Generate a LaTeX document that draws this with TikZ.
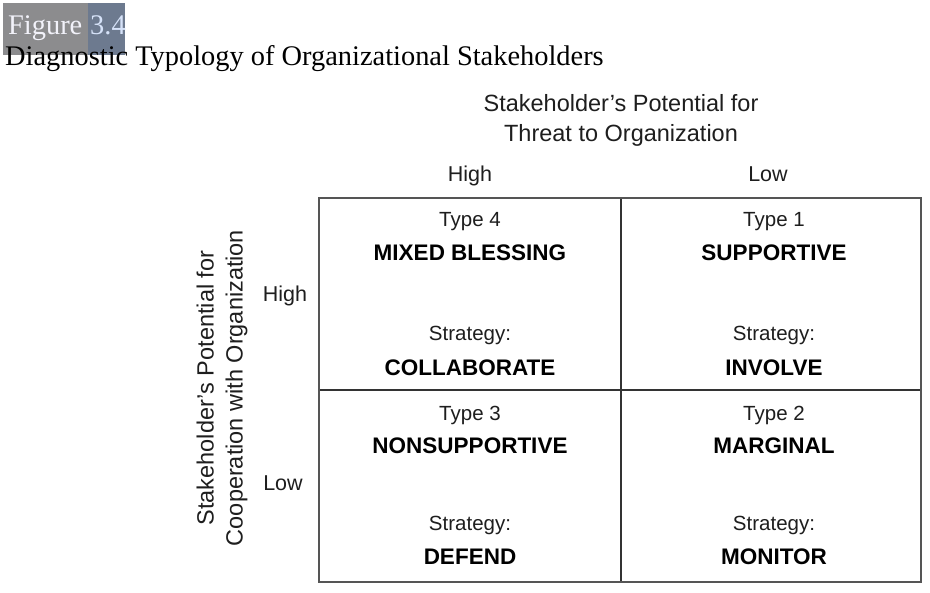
\documentclass[tikz,border=0pt]{standalone}
\usepackage{fontspec}
\setmainfont{Liberation Serif}
\setsansfont{Liberation Sans}
\definecolor{figgray}{HTML}{8C8C8E}
\definecolor{figblue}{HTML}{6D7A8F}
\definecolor{figtxt}{HTML}{F2F2FA}
\definecolor{numtxt}{HTML}{D6E2F8}
\definecolor{gridc}{HTML}{333333}
\definecolor{borderc}{HTML}{555555}
\definecolor{txt}{HTML}{1E1E1E}
\tikzset{
  axislbl/.style={anchor=base, inner sep=0pt, text=txt, font=\sffamily\fontsize{23.5}{28}\selectfont},
  levellbl/.style={anchor=base, inner sep=0pt, text=txt, font=\sffamily\fontsize{21.5}{26}\selectfont},
  typelbl/.style={anchor=base, inner sep=0pt, text=txt, font=\sffamily\fontsize{20.5}{24}\selectfont},
  namelbl/.style={anchor=base, inner sep=0pt, text=black, font=\sffamily\bfseries\fontsize{22.5}{26}\selectfont},
  titlelbl/.style={anchor=base west, inner sep=0pt, font=\fontsize{28.4}{32}\selectfont},
}
\begin{document}
\begin{tikzpicture}[x=1pt,y=-1pt]
\useasboundingbox (0,0) rectangle (930,593);
\fill[white] (0,0) rectangle (930,593);
% figure label boxes
\fill[figgray] (3,3) rectangle (88,55);
\fill[figblue] (88,3) rectangle (125,55);
\node[titlelbl, text=figtxt] (figword) at (8,35) {Figure};
\node[titlelbl, text=numtxt] (fignum) at (90,35) {3.4};
\node[titlelbl, text=black] (title) at (5,66) {Diagnostic Typology of Organizational Stakeholders};
% axis labels
\node[axislbl] (toplbl1) at (621,111.5) {Stakeholder’s Potential for};
\node[axislbl] (toplbl2) at (621,141.5) {Threat to Organization};
\node[levellbl] (tophigh) at (470,181.5) {High};
\node[levellbl] (toplow) at (768,181.5) {Low};
\node[axislbl, rotate=90] (leftlbl1) at (213.5,388) {Stakeholder’s Potential for};
\node[axislbl, rotate=90] (leftlbl2) at (242.5,388) {Cooperation with Organization};
\node[levellbl] (lefthigh) at (285,301.5) {High};
\node[levellbl] (leftlow) at (283,490.5) {Low};
% grid
\draw[gridc, line width=1.4pt] (621,198) -- (621,582);
\draw[gridc, line width=1.4pt] (319,390) -- (921,390);
\draw[borderc, line width=2pt] (319,198) rectangle (921,582);
% cells
\node[typelbl] (t4) at (470,226.5) {Type 4};
\node[namelbl] (n4) at (470,261) {MIXED BLESSING};
\node[typelbl] (s4) at (470,340.5) {Strategy:};
\node[namelbl] (a4) at (470,376) {COLLABORATE};
\node[typelbl] (t1) at (774,226.5) {Type 1};
\node[namelbl] (n1) at (774,261) {SUPPORTIVE};
\node[typelbl] (s1) at (774,340.5) {Strategy:};
\node[namelbl] (a1) at (774,376) {INVOLVE};
\node[typelbl] (t3) at (470,420.5) {Type 3};
\node[namelbl] (n3) at (470,454) {NONSUPPORTIVE};
\node[typelbl] (s3) at (470,530.5) {Strategy:};
\node[namelbl] (a3) at (470,565) {DEFEND};
\node[typelbl] (t2) at (774,420.5) {Type 2};
\node[namelbl] (n2) at (774,454) {MARGINAL};
\node[typelbl] (s2) at (774,530.5) {Strategy:};
\node[namelbl] (a2) at (774,565) {MONITOR};
\end{tikzpicture}
\end{document}
